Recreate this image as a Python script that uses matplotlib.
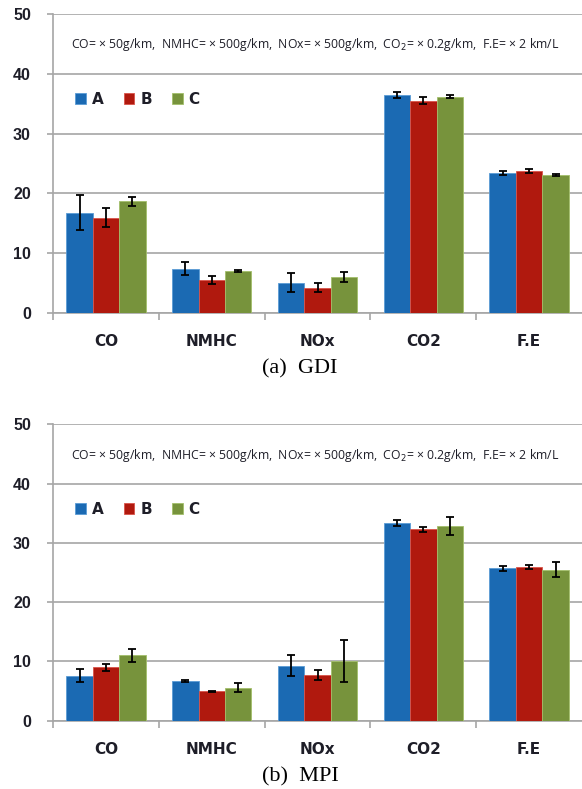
import matplotlib
matplotlib.use("Agg")
import matplotlib.pyplot as plt
import numpy as np

categories = ["CO", "NMHC", "NOx", "CO2", "F.E"]
series = ["A", "B", "C"]
colors = ["#1b6ab3", "#b0190e", "#77933c"]
edge_colors = ["#5a9bd5", "#d9534a", "#a3bf6a"]

# GDI engine: means and error half-widths
gdi_A = [16.8, 7.4, 5.1, 36.5, 23.4]
gdi_B = [15.9, 5.5, 4.2, 35.5, 23.7]
gdi_C = [18.7, 7.0, 6.0, 36.2, 23.1]
gdi_A_err = [2.9, 1.1, 1.6, 0.5, 0.35]
gdi_B_err = [1.6, 0.65, 0.75, 0.55, 0.3]
gdi_C_err = [0.75, 0.2, 0.85, 0.3, 0.15]

# MPI engine: means and error half-widths
mpi_A = [7.6, 6.7, 9.3, 33.4, 25.7]
mpi_B = [9.0, 4.95, 7.7, 32.3, 25.9]
mpi_C = [11.0, 5.6, 10.1, 32.8, 25.5]
mpi_A_err = [1.1, 0.22, 1.7, 0.5, 0.4]
mpi_B_err = [0.6, 0.05, 0.9, 0.4, 0.3]
mpi_C_err = [1.15, 0.8, 3.5, 1.5, 1.2]

y_ticks = [0, 10, 20, 30, 40, 50]
note = ("CO= \u00d7 50g/km,  NMHC= \u00d7 500g/km,  NOx= \u00d7 500g/km,  "
        "CO$_2$= \u00d7 0.2g/km,  F.E= \u00d7 2 km/L")

W, H = 582, 789
fig = plt.figure(figsize=(W / 100, H / 100), dpi=100)

grid_c = "#a6a6a6"
text_c = "#1e1e28"
AX_LEFT = 53.1


def panel(bottom_px, height_px, vals, errs, caption, cap_y, note_y, leg_y):
    ax = fig.add_axes([AX_LEFT / W, 1 - bottom_px / H, (W - AX_LEFT) / W, height_px / H])
    x = np.arange(len(categories))
    bw = 0.25
    for i, (v, e) in enumerate(zip(vals, errs)):
        ax.bar(x + (i - 1) * bw, v, bw, color=colors[i], edgecolor=edge_colors[i],
               linewidth=0.6, label=series[i], zorder=3)
        ax.errorbar(x + (i - 1) * bw, v, yerr=e, fmt="none", ecolor="black",
                    elinewidth=1.3, capsize=3, capthick=1.3, zorder=4)
    ax.set_ylim(0, 50)
    ax.set_xlim(-0.5, 4.5)
    ax.set_yticks(y_ticks)
    ax.set_yticklabels([str(t) for t in y_ticks], fontsize=11.5, fontweight="bold",
                       color=text_c, family="Liberation Sans")
    ax.yaxis.grid(True, color=grid_c, linewidth=1.2, zorder=0)
    ax.set_axisbelow(True)
    for s in ["top", "right"]:
        ax.spines[s].set_visible(False)
    for s in ["left", "bottom"]:
        ax.spines[s].set_color(grid_c)
        ax.spines[s].set_linewidth(1.2)
    ax.tick_params(axis="y", colors=grid_c, length=4, width=1.2, pad=12,
                   labelcolor=text_c)
    # category boundary ticks and centred labels
    ax.set_xticks(np.arange(-0.5, len(categories) - 0.5, 1.0))
    ax.set_xticklabels([])
    ax.set_xticks(x, minor=True)
    ax.set_xticklabels(categories, minor=True, fontsize=11, fontweight="bold",
                       color=text_c, family="DejaVu Sans")
    ax.tick_params(axis="x", which="major", colors=grid_c, length=5, width=1.2)
    ax.tick_params(axis="x", which="minor", length=0, pad=15)
    fig.text(71 / W, 1 - note_y / H, note, fontsize=8.8, color=text_c,
             family="Open Sans", va="center", ha="left")
    leg = ax.legend(loc="center left",
                    bbox_to_anchor=((69 - AX_LEFT) / (W - AX_LEFT),
                                    (bottom_px - leg_y) / height_px),
                    ncol=3, frameon=False, handlelength=0.7, handleheight=0.7,
                    handletextpad=0.4, columnspacing=1.3, borderaxespad=0,
                    prop={"family": "DejaVu Sans", "weight": "bold", "size": 11})
    for t in leg.get_texts():
        t.set_color(text_c)
    fig.text(300 / W, 1 - cap_y / H, caption, fontsize=16, family="Liberation Serif",
             ha="center", va="center", color="black")
    return ax


ax1 = panel(313, 299, [gdi_A, gdi_B, gdi_C], [gdi_A_err, gdi_B_err, gdi_C_err],
            "(a)  GDI", 369, 44.3, 99)
ax2 = panel(720.7, 296.4, [mpi_A, mpi_B, mpi_C], [mpi_A_err, mpi_B_err, mpi_C_err],
            "(b)  MPI", 777, 455, 509)

fig.savefig("out.png", dpi=100)
